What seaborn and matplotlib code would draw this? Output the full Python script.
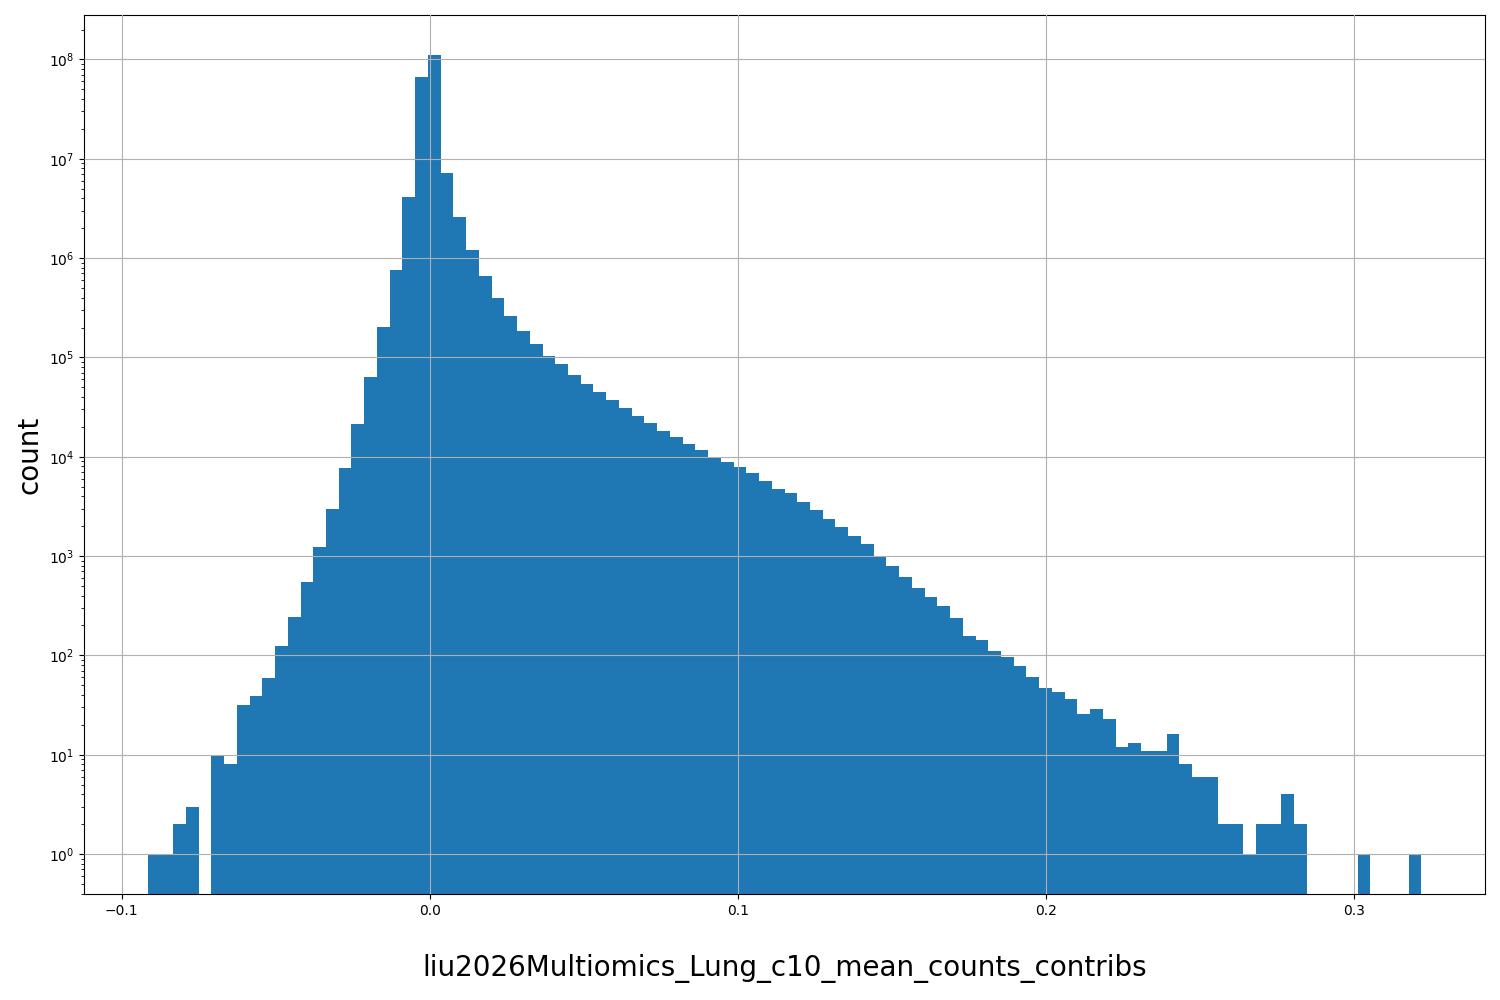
import numpy as np
import pandas as pd
import seaborn as sns
import matplotlib
matplotlib.use('Agg')
import matplotlib.pyplot as plt

X_LABEL = 'liu2026Multiomics_Lung_c10_mean_counts_contribs'
Y_LABEL = 'count'

# histogram range and number of bins
X_MIN = -0.09158
X_MAX = 0.3220
N_BINS = 100

# counts per bin (left to right)
counts = [
    1, 1, 2, 3, 0, 10, 8, 32, 39, 59,
    124, 243, 548, 1235, 2960, 7740, 21300, 63000, 204000, 759000,
    4120000, 66700000, 111000000, 7200000, 2570000, 1200000, 660000, 400000, 263000, 186000,
    137000, 104000, 85000, 67000, 54500, 45000, 37500, 31000, 25900, 22000,
    18300, 15900, 13500, 11800, 9900, 8800, 7950, 6900, 5700, 4750,
    4300, 3500, 2900, 2370, 1960, 1590, 1320, 980, 800, 613,
    479, 390, 316, 240, 158, 144, 110, 96, 79, 60,
    47, 43, 36, 26, 29, 23, 12, 13, 11, 11,
    16, 8, 6, 6, 2, 2, 1, 2, 2, 4,
    2, 0, 0, 0, 0, 1, 0, 0, 0, 1,
]

edges = np.linspace(X_MIN, X_MAX, N_BINS + 1)
centers = (edges[:-1] + edges[1:]) / 2
df = pd.DataFrame({'value': centers, 'count': counts})

fig, ax = plt.subplots(figsize=(15, 10), dpi=100)
fig.subplots_adjust(left=0.056, right=0.99, top=0.985, bottom=0.106)

sns.histplot(data=df, x='value', weights='count', bins=N_BINS,
             binrange=(X_MIN, X_MAX), ax=ax,
             color='#1f77b4', alpha=1.0, linewidth=0, edgecolor='none')
ax.set_yscale('log')

span = X_MAX - X_MIN
ax.set_xlim(X_MIN - 0.05 * span, X_MAX + 0.05 * span)
top = np.log10(max(counts))
ax.set_ylim(10 ** (-0.05 * top), 10 ** (1.05 * top))

# grid drawn over the bars, like the reference
ax.grid(True, color='#b0b0b0', linewidth=0.8)
ax.set_axisbelow(False)
for p in ax.patches:
    p.set_zorder(0.5)

ax.set_xlabel(X_LABEL, fontsize=20, labelpad=26)
ax.set_ylabel(Y_LABEL, fontsize=20)

fig.savefig('out.png', dpi=100)
